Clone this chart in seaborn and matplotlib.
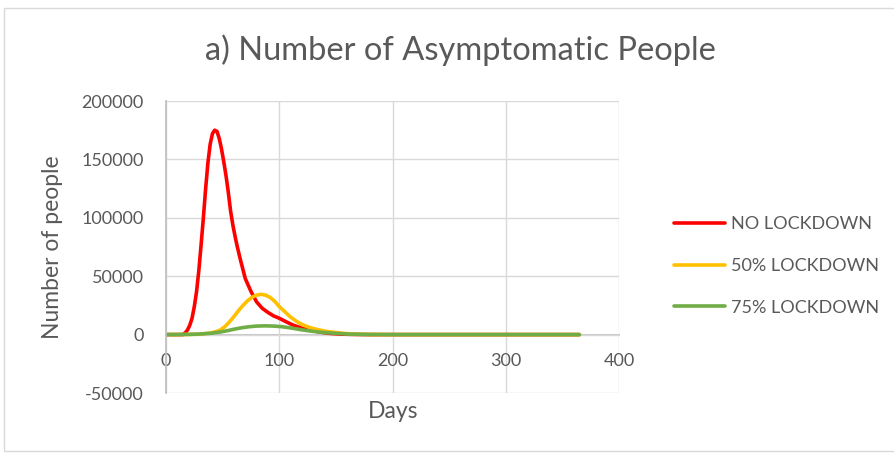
import matplotlib
matplotlib.use("Agg")
import matplotlib.pyplot as plt
import seaborn as sns
import pandas as pd
from matplotlib.patches import Rectangle

red_days = [0, 10, 15, 17, 19, 21, 23, 25, 27, 29, 31, 33, 35, 37, 39, 41, 43, 45, 47,
            49, 51, 53, 55, 57, 59, 61, 63, 66, 70, 75, 80, 85, 90, 95, 100, 106, 112,
            120, 127, 135, 145, 155, 165, 180, 250, 300, 365]
no_lockdown = [0, 0, 0, 1500, 4000, 8000, 14000, 24000, 37000, 55000, 77000, 100000,
               125000, 147000, 163000, 172000, 175000, 174000, 168000, 159000, 148000,
               136000, 122000, 106000, 94000, 84000, 75000, 63000, 48000, 37000, 28000,
               22500, 19000, 16000, 14000, 11000, 8200, 5500, 3900, 2300, 1000, 400, 150,
               0, 0, 0, 0]
y50_days = [0, 20, 30, 40, 45, 48, 52, 56, 60, 64, 68, 72, 76, 80, 84, 88, 92, 96, 100,
            105, 110, 115, 120, 127, 133, 140, 148, 160, 170, 180, 200, 250, 300, 365]
lock50 = [0, 100, 400, 1500, 2800, 4000, 6800, 10800, 15500, 20500, 25000, 29000, 32000,
          33800, 34500, 33800, 31800, 28500, 24000, 19500, 15000, 11500, 8700, 6000, 4500,
          3000, 2000, 800, 300, 100, 0, 0, 0, 0]
g75_days = [0, 20, 30, 40, 48, 55, 60, 67, 74, 80, 88, 95, 102, 110, 118, 127, 137, 148,
            160, 170, 180, 200, 250, 300, 365]
lock75 = [0, 200, 500, 1200, 2200, 3500, 4600, 5900, 6800, 7300, 7500, 7300, 6800, 5700,
          4400, 3100, 2000, 1200, 500, 250, 100, 0, 0, 0, 0]
series_names = ["NO LOCKDOWN", "50% LOCKDOWN", "75% LOCKDOWN"]
colors = ["#FF0000", "#FFC000", "#70AD47"]
yticks = [-50000, 0, 50000, 100000, 150000, 200000]
xticks = [0, 100, 200, 300, 400]

df = pd.concat([
    pd.DataFrame({"Days": d, "value": v, "series": name})
    for name, d, v in zip(series_names, [red_days, y50_days, g75_days],
                          [no_lockdown, lock50, lock75])
], ignore_index=True)

sns.set_theme(style="white")
plt.rcParams["font.family"] = ["Lato", "DejaVu Sans"]
txt = "#595959"

fig = plt.figure(figsize=(8.94, 4.53), dpi=100)
ax = fig.add_axes([166 / 894, 1 - 393 / 453, (619 - 166) / 894, (393 - 101) / 453])

sns.lineplot(data=df, x="Days", y="value", hue="series", hue_order=series_names,
             palette=colors, linewidth=2.6, ax=ax, legend=True)
for ln in ax.get_lines():
    ln.set_solid_joinstyle("round")
    ln.set_solid_capstyle("round")

ax.set_xlim(0, 400)
ax.set_ylim(-50000, 200000)
ax.set_xticks(xticks)
ax.set_yticks(yticks)
ax.set_xticklabels([str(v) for v in xticks])
ax.set_yticklabels([str(v) for v in yticks])
ax.grid(True, color="#D9D9D9", linewidth=1)
ax.set_axisbelow(True)
for s in ["top", "right"]:
    ax.spines[s].set_visible(False)
ax.spines["bottom"].set_position(("data", 0))
ax.spines["bottom"].set_color("#BFBFBF")
ax.spines["left"].set_color("#BFBFBF")
ax.spines["bottom"].set_zorder(0.5)
ax.tick_params(axis="both", length=0, labelsize=13, colors=txt)
ax.tick_params(axis="y", pad=16)
ax.tick_params(axis="x", pad=13)

ax.set_xlabel("")
ax.set_ylabel("")
fig.text(393 / 894, 1 - 412 / 453, "Days", ha="center", va="center", fontsize=16.5, color=txt)
fig.text(53 / 894, 1 - 247 / 453, "Number of people", ha="center", va="center",
         rotation=90, fontsize=16.5, color=txt)
fig.text(460 / 894, 1 - 50 / 453, "a) Number of Asymptomatic People", ha="center",
         va="center", fontsize=23.5, color=txt)

leg = ax.legend(loc="center left", bbox_to_anchor=(674 / 894, 1 - 266 / 453),
                bbox_transform=fig.transFigure, frameon=False, fontsize=13,
                labelspacing=1.42, handlelength=2.8, handletextpad=0.35,
                borderpad=0, borderaxespad=0)
for t in leg.get_texts():
    t.set_color(txt)
for l in leg.get_lines():
    l.set_linewidth(2.6)

fig.patches.append(Rectangle((4 / 894, 0.005), 1.2, 1 - 8 / 453 - 0.005,
                             transform=fig.transFigure, fill=False,
                             edgecolor="#D9D9D9", linewidth=1))

fig.savefig("out.png", dpi=100, facecolor="white")
